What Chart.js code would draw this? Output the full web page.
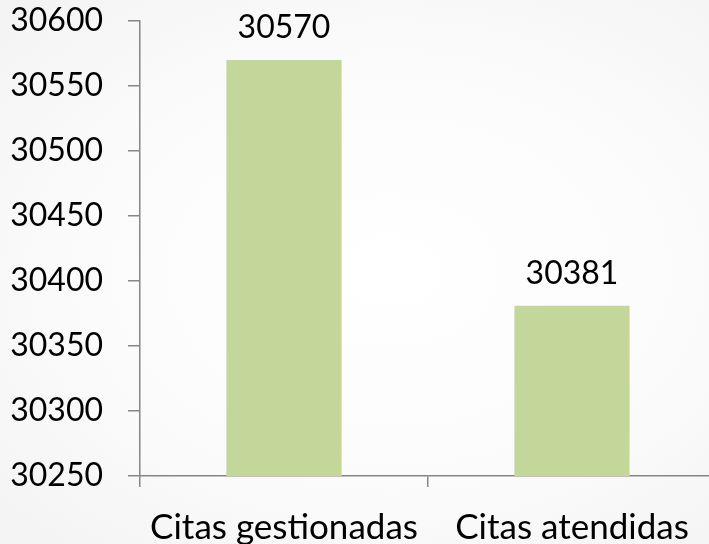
<!DOCTYPE html>
<html>
<head>
<meta charset="utf-8">
<script src="https://cdn.jsdelivr.net/npm/chart.js@4.4.1/dist/chart.umd.min.js"></script>
<style>
  html, body { margin: 0; padding: 0; overflow: hidden; width: 709px; height: 544px;
    background: radial-gradient(ellipse at 55% 50%, #ffffff 0%, #fbfbfb 55%, #f3f3f3 100%); }
  #wrap { position: absolute; left: 0; top: 0; width: 716px; height: 544px; }
</style>
</head>
<body>
<div id="wrap"><canvas id="c" width="716" height="544"></canvas></div>
<script>
const categories = ["Citas gestionadas", "Citas atendidas"];
const values = [30570, 30381];
const yMin = 30250, yMax = 30600, yStep = 50;

const valueLabels = {
  id: 'valueLabels',
  afterDatasetsDraw(chart) {
    const ctx = chart.ctx;
    const meta = chart.getDatasetMeta(0);
    ctx.save();
    ctx.font = '32px Lato';
    ctx.fillStyle = '#000';
    ctx.textAlign = 'center';
    ctx.textBaseline = 'alphabetic';
    meta.data.forEach((bar, i) => {
      ctx.fillText(String(values[i]), bar.x, bar.y - 22);
    });
    ctx.restore();
  }
};

new Chart(document.getElementById('c'), {
  type: 'bar',
  data: {
    labels: categories,
    datasets: [{
      data: values,
      backgroundColor: '#c4d79b',
      borderWidth: 0,
      categoryPercentage: 0.8,
      barPercentage: 0.5
    }]
  },
  options: {
    responsive: false,
    animation: false,
    layout: { padding: { top: 21, right: 0, bottom: 0, left: 0 } },
    plugins: { legend: { display: false }, tooltip: { enabled: false } },
    scales: {
      x: {
        offset: true,
        grid: { offset: true, drawOnChartArea: false, tickLength: 11, color: '#868686', lineWidth: 1.5 },
        border: { color: '#868686', width: 1.5 },
        ticks: { color: '#000', font: { family: 'Lato', size: 35 }, padding: 20, maxRotation: 0 },
        afterFit(s) { s.height = 68; s.paddingLeft = 0; s.paddingRight = 0; }
      },
      y: {
        min: yMin, max: yMax,
        grid: { drawOnChartArea: false, tickLength: 12, color: '#868686', lineWidth: 1.5 },
        border: { color: '#868686', width: 1.5 },
        ticks: { stepSize: yStep, color: '#000', font: { family: 'Lato', size: 32 }, padding: 25,
                 callback: (v) => String(v) },
        afterFit(s) { s.width = 140; s.paddingTop = 0; s.paddingBottom = 0; }
      }
    }
  },
  plugins: [valueLabels]
});
</script>
</body>
</html>
